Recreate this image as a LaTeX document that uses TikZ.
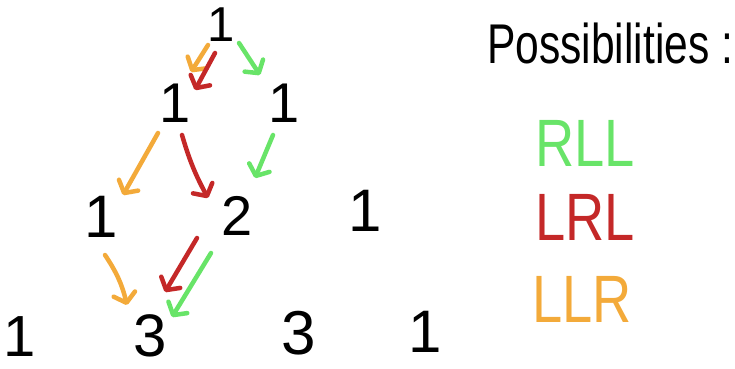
\documentclass[tikz,border=0pt]{standalone}
\usepackage{fontspec}
\setmainfont{Liberation Sans}
\usetikzlibrary{arrows.meta}
\definecolor{pgreen}{RGB}{104,228,104}
\definecolor{pred}{RGB}{196,40,40}
\definecolor{porange}{RGB}{243,170,58}
\begin{document}
\begin{tikzpicture}[x=1pt,y=-1pt,
  num/.style={inner sep=0pt, font=\fontsize{#1}{#1}\selectfont},
  word/.style={inner sep=0pt, anchor=base west, font=\fontsize{67}{67}\selectfont, xscale=0.81},
  move/.style={line width=4.5pt, line cap=round, line join=round,
    -{Straight Barb[length=9pt,width=22pt,round]}},
]
\useasboundingbox (0,0) rectangle (735,368);

% Pascal's triangle rows
\node[num=49] (n00) at (221,25) {1};
\node[num=56] (n10) at (175,103) {1};
\node[num=56] (n11) at (284,103) {1};
\node[num=60] (n20) at (101,217) {1};
\node[num=56] (n21) at (237,216) {2};
\node[num=60] (n22) at (365,211) {1};
\node[num=58] (n30) at (20,337) {1};
\node[num=60] (n31) at (150,336) {3};
\node[num=62] (n32) at (299,333) {3};
\node[num=60] (n33) at (425,332) {1};

% end points of the path arrows
\coordinate (o1s) at (208,45);  \coordinate (o1e) at (191,72);
\coordinate (r1s) at (215,53);  \coordinate (r1e) at (195,90);
\coordinate (g1s) at (239,43);  \coordinate (g1e) at (260,75);
\coordinate (o2s) at (158,133); \coordinate (o2e) at (123,195);
\coordinate (r2s) at (182,135); \coordinate (r2e) at (208,198);
\coordinate (g2s) at (273,135); \coordinate (g2e) at (255,178);
\coordinate (o3s) at (105,255); \coordinate (o3e) at (127,305);
\coordinate (r3s) at (197,238); \coordinate (r3e) at (165,292);
\coordinate (g3s) at (211,253); \coordinate (g3e) at (172,317);

% LLR path
\draw[move, porange] (o1s) -- (o1e);
\draw[move, porange] (o2s) -- (o2e);
\draw[move, porange] (o3s) to[bend left=10] (o3e);
% LRL path
\draw[move, pred] (r1s) -- (r1e);
\draw[move, pred] (r2s) to[bend right=6] (r2e);
\draw[move, pred] (r3s) -- (r3e);
% RLL path
\draw[move, pgreen] (g1s) -- (g1e);
\draw[move, pgreen] (g2s) -- (g2e);
\draw[move, pgreen] (g3s) -- (g3e);

% list of possibilities
\node[inner sep=0pt, anchor=base west, font=\fontsize{56}{56}\selectfont, xscale=0.76] (title) at (487,63) {Possibilities :};
\node[word, text=pgreen] (rll) at (535,166) {RLL};
\node[word, text=pred] (lrl) at (535,240) {LRL};
\node[word, text=porange] (llr) at (532,322) {LLR};
\end{tikzpicture}
\end{document}
